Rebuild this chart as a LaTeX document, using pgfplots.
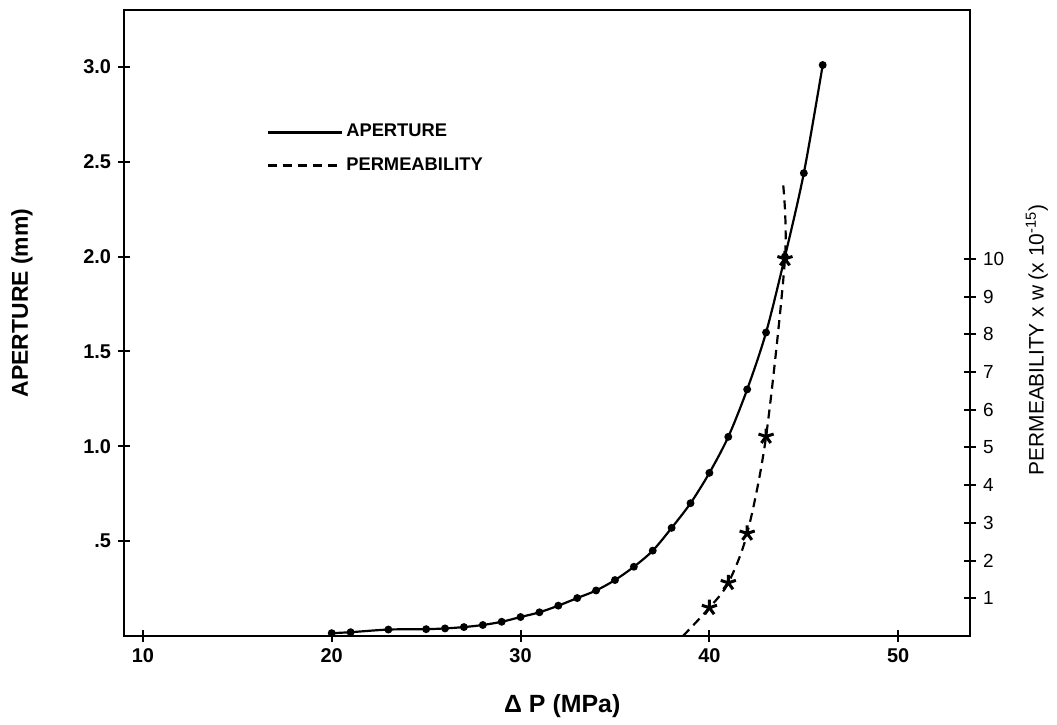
\documentclass[border=0pt]{standalone}
\usepackage{fontspec}
\setmainfont{Liberation Sans}
\usepackage{pgfplots}
\pgfplotsset{compat=1.18}

% aperture (mm) against Delta P (MPa)
\pgfplotstableread{
dp   ap
20   0.015
21   0.020
23   0.034
25   0.036
26   0.040
27   0.047
28   0.058
29   0.075
30   0.100
31   0.125
32   0.160
33   0.200
34   0.240
35   0.295
36   0.365
37   0.450
38   0.570
39   0.700
40   0.860
41   1.050
42   1.300
43   1.600
44   2.000
45   2.440
46   3.010
}\aperture

% permeability x w (x 1e-15) against Delta P (MPa)
\pgfplotstableread{
dp    k
38.6  0.00
40.0  0.75
41.0  1.41
42.0  2.72
43.0  5.29
44.0  10.00
43.9  12.00
}\perm

\pgfplotsset{
  common/.style={
    scale only axis, width=423bp, height=313bp,
    at={(0,0)}, anchor=south west,
    xmin=9, xmax=53.8,
    tick align=center, major tick length=6bp,
    axis line style={line width=1.2pt},
    major tick style={line width=1pt, black},
    /pgf/number format/assume math mode=true,
  },
}

\begin{document}
\begin{tikzpicture}
\begin{axis}[
    common,
    ymin=0, ymax=3.3,
    xtick={10,20,30,40,50},
    ytick={0.5,1,1.5,2,2.5,3},
    yticklabels={.5,1.0,1.5,2.0,2.5,3.0},
    xtick pos=bottom, ytick pos=left,
    ticklabel style={font=\fontsize{10}{12}\selectfont\bfseries},
    xlabel={Δ P (MPa)},
    ylabel={APERTURE (mm)},
    xlabel style={at={(axis description cs:0.518,-0.112)}, anchor=center,
        font=\fontsize{12.5}{14}\selectfont\bfseries},
    ylabel style={at={(axis description cs:-0.1206,0.532)}, anchor=center,
        font=\fontsize{11.5}{13}\selectfont\bfseries},
    legend image code/.code={\draw[#1, line width=1.4pt] (0bp,0bp) -- (37bp,0bp);},
    legend style={at={(axis description cs:0.168,0.778)}, anchor=west,
        draw=none, fill=none, inner sep=0pt, row sep=6bp,
        nodes={inner sep=1.5pt},
        font=\fontsize{9.2}{10.5}\selectfont\bfseries},
    legend cell align=left,
]
\addplot[black, line width=1.1pt, smooth, mark=*, mark size=1.4pt]
    table[x=dp, y=ap] {\aperture};
\addlegendentry{APERTURE}
\addlegendimage{black, dash pattern=on 4.5bp off 3bp}
\addlegendentry{PERMEABILITY}
\end{axis}

\begin{axis}[
    common,
    ymin=0, ymax=16.6,
    axis x line=none, axis y line*=right,
    ytick={1,2,3,4,5,6,7,8,9,10},
    ticklabel style={font=\fontsize{9.5}{11}\selectfont},
    ylabel={PERMEABILITY x w (x 10\textsuperscript{-15})},
    ylabel style={at={(axis description cs:1.079,0.473)}, anchor=center,
        font=\fontsize{10.5}{12}\selectfont},
]
\addplot[black, line width=1.1pt, smooth, dash pattern=on 4.5bp off 3bp,
    mark=star, mark size=4pt, mark options={solid, line width=1.5pt},
    mark indices={2,3,4,5,6}]
    table[x=dp, y=k] {\perm};
\end{axis}

\pgfresetboundingbox
\path (-62bp,-44.5bp) rectangle (466.5bp,318bp);
\end{tikzpicture}
\end{document}
